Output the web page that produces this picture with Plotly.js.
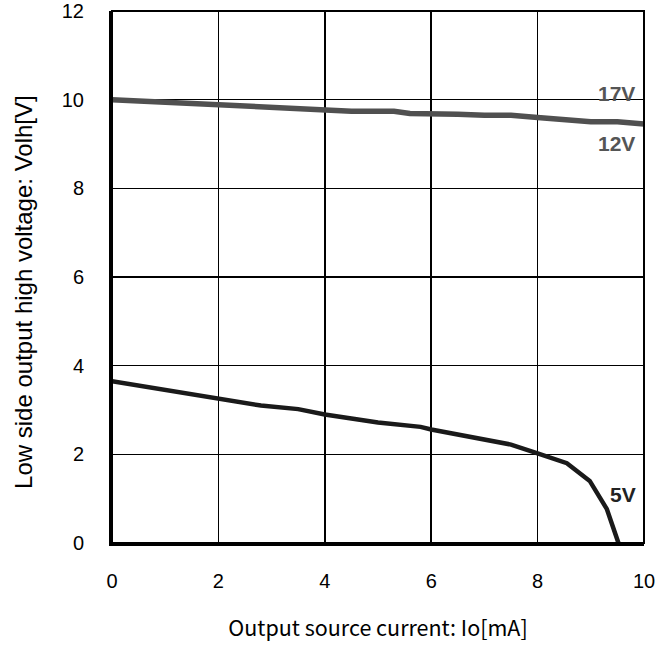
<!DOCTYPE html>
<html>
<head>
<meta charset="utf-8">
<script src="https://cdn.plot.ly/plotly-3.0.1.min.js"></script>
<style>html,body{margin:0;padding:0;background:#fff;}#chart{width:668px;height:652px;}</style>
</head>
<body>
<div id="chart"></div>
<script>
// Upper curve (12V / 17V overlap)
const xHigh = [0, 0.5, 1, 1.5, 2, 2.5, 3, 3.5, 4, 4.5, 5, 5.3, 5.6, 6, 6.5, 7, 7.5, 8, 8.5, 8.8, 9, 9.5, 10];
const yHigh = [10.0, 9.97, 9.94, 9.91, 9.91, 9.88, 9.85, 9.82, 9.78, 9.74, 9.74, 9.74, 9.69, 9.69, 9.67, 9.65, 9.65, 9.6, 9.55, 9.5, 9.5, 9.5, 9.45];
// Lower curve (5V)
const x5V = [0, 1, 2, 2.8, 3.5, 4, 5, 5.8, 6, 7, 7.5, 8, 8.3, 8.55, 8.98, 9.3, 9.52];
const y5V = [3.65, 3.45, 3.27, 3.1, 3.02, 2.9, 2.72, 2.62, 2.56, 2.32, 2.22, 2.02, 1.9, 1.8, 1.4, 0.77, 0];

const xTicks = [0, 2, 4, 6, 8, 10];
const yTicks = [0, 2, 4, 6, 8, 10, 12];
const xTitle = 'Output source current: Io[mA]';
const yTitle = 'Low side output high voltage: Volh[V]';
const labels = [
  {text: '17V', x: 9.87, y: 10.13, color: '#555555'},
  {text: '12V', x: 9.87, y: 9.02, color: '#555555'},
  {text: '5V', x: 9.89, y: 1.1, color: '#222222'}
];

const traces = [
  {x: xHigh, y: yHigh, mode: 'lines', line: {color: '#505050', width: 5.5}, hoverinfo: 'skip'},
  {x: x5V, y: y5V, mode: 'lines', line: {color: '#1a1a1a', width: 4.5}, hoverinfo: 'skip'}
];

const annots = labels.map(l => ({
  x: l.x, y: l.y, xref: 'x', yref: 'y', text: '<b>' + l.text + '</b>', showarrow: false,
  xanchor: 'right', yanchor: 'middle', font: {size: 21, color: l.color, family: 'Liberation Sans, Arial, sans-serif'}
}));
annots.push({
  xref: 'paper', yref: 'paper', x: -0.1654, y: 0.472, text: yTitle, textangle: -90, showarrow: false,
  xanchor: 'center', yanchor: 'middle', font: {size: 24, color: '#000', family: 'Liberation Sans, Arial, sans-serif'}
});

const layout = {
  width: 668, height: 652,
  margin: {l: 112, r: 24, t: 11, b: 109},
  paper_bgcolor: '#ffffff', plot_bgcolor: '#ffffff',
  showlegend: false,
  font: {family: 'Liberation Sans, Arial, sans-serif', color: '#000', size: 19},
  xaxis: {
    range: [0, 10], tickvals: xTicks, ticktext: xTicks.map(String),
    showgrid: true, gridcolor: '#000', gridwidth: 1.5, zeroline: false,
    showline: true, linecolor: '#000', linewidth: 3,
    ticks: '', ticklabelstandoff: 18,
    tickfont: {size: 20, family: 'Liberation Sans, Arial, sans-serif'},
    title: {text: xTitle, font: {size: 21.5, family: 'Noto Sans CJK JP, sans-serif'}, standoff: 30}
  },
  yaxis: {
    range: [0, 12], tickvals: yTicks, ticktext: yTicks.map(String),
    showgrid: true, gridcolor: '#000', gridwidth: 1.5, zeroline: false,
    showline: true, linecolor: '#000', linewidth: 3,
    ticks: '', ticklabelstandoff: 21,
    tickfont: {size: 20, family: 'Liberation Sans, Arial, sans-serif'}
  },
  shapes: [
    {type: 'rect', xref: 'paper', yref: 'paper', x0: 0, x1: 1, y0: 0, y1: 1, line: {color: '#000', width: 2}}
  ],
  annotations: annots
};

Plotly.newPlot('chart', traces, layout, {displayModeBar: false, staticPlot: true});
</script>
</body>
</html>
